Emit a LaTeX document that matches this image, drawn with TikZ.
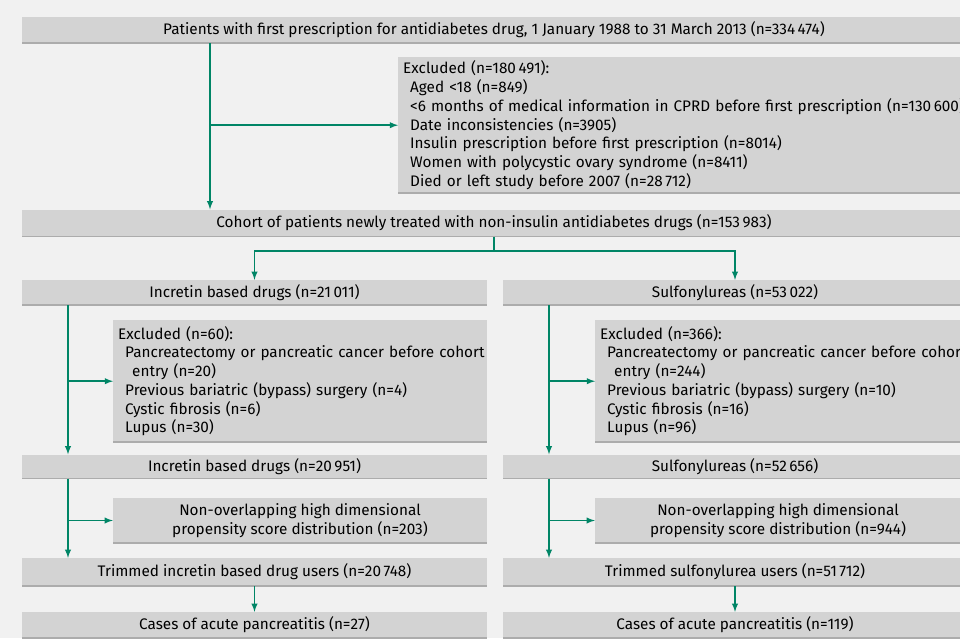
\documentclass[tikz,border=0pt]{standalone}
\usepackage{fontspec}
\setmainfont{Fira Sans}
\usetikzlibrary{positioning}
\definecolor{arrowgreen}{RGB}{0,133,102}
\definecolor{boxgray}{RGB}{211,211,211}
\definecolor{boxedge}{RGB}{172,172,172}
\definecolor{pagegray}{RGB}{241,241,241}

\begin{document}
\begin{tikzpicture}[x=1pt, y=-1pt,
		box/.style={fill=boxgray, inner sep=0pt, font=\fontsize{15.3}{18.7}\selectfont,
			path picture={\draw[boxedge, line width=2pt] (path picture bounding box.south west) -- (path picture bounding box.south east);}},
		widebar/.style={box, minimum width=944pt, minimum height=26pt},
		halfbar/.style={box, minimum width=465pt, minimum height=25pt},
		listbox/.style={box, anchor=north west, align=left, inner xsep=5pt, text width=#1},
		arr/.style={line width=1.8pt, ->, >=latex, arrowgreen},
		link/.style={line width=1.8pt, arrowgreen}]
		\useasboundingbox (0,0) rectangle (960,638);
		\fill[pagegray] (0,0) rectangle (960,638);
		\clip (0,0) rectangle (960,638);
		
		\node[widebar] (patients) at (494,30) {Patients with first prescription for antidiabetes drug, 1 January 1988 to 31 March 2013 (n=334\,474)};
		\node[listbox=560pt, minimum height=136pt] (excluded) at (398,57) {Excluded (n=180\,491):\\
			\hspace*{7pt}Aged <18 (n=849)\\
			\hspace*{7pt}\mbox{<6 months of medical information in CPRD before first prescription (n=130\,600)}\\
			\hspace*{7pt}Date inconsistencies (n=3905)\\
			\hspace*{7pt}Insulin prescription before first prescription (n=8014)\\
			\hspace*{7pt}Women with polycystic ovary syndrome (n=8411)\\
			\hspace*{7pt}Died or left study before 2007 (n=28\,712)};
		\node[widebar, minimum height=27pt] (cohort) at (494,223) {Cohort of patients newly treated with non-insulin antidiabetes drugs (n=153\,983)};
		
		\node[halfbar] (incretin) at (254.5,292.5) {Incretin based drugs (n=21\,011)};
		\node[halfbar, minimum width=464pt] (sulfo) at (735,292.5) {Sulfonylureas (n=53\,022)};
		
		\node[listbox=364pt, minimum height=122pt] (exclinc) at (113,320) {Excluded (n=60):\\
			\hspace*{7pt}\mbox{Pancreatectomy or pancreatic cancer before cohort}\\
			\hspace*{14pt}entry (n=20)\\
			\hspace*{7pt}Previous bariatric (bypass) surgery (n=4)\\
			\hspace*{7pt}Cystic fibrosis (n=6)\\
			\hspace*{7pt}Lupus (n=30)};
		\node[listbox=370pt, minimum height=122pt] (exclsulfo) at (595,320) {Excluded (n=366):\\
			\hspace*{7pt}\mbox{Pancreatectomy or pancreatic cancer before cohort}\\
			\hspace*{14pt}entry (n=244)\\
			\hspace*{7pt}Previous bariatric (bypass) surgery (n=10)\\
			\hspace*{7pt}Cystic fibrosis (n=16)\\
			\hspace*{7pt}Lupus (n=96)};
		
		\node[halfbar, minimum height=24pt] (incretin2) at (254.5,466.5) {Incretin based drugs (n=20\,951)};
		\node[halfbar, minimum width=464pt, minimum height=24pt] (sulfo2) at (735,466.5) {Sulfonylureas (n=52\,656)};
		
		\node[box, minimum width=374pt, minimum height=45pt, align=center] (overlapinc) at (300,520.5) {Non-overlapping high dimensional\\propensity score distribution (n=203)};
		\node[box, minimum width=366pt, minimum height=45pt, align=center] (overlapsulfo) at (778,520.5) {Non-overlapping high dimensional\\propensity score distribution (n=944)};
		
		\node[halfbar, minimum height=28pt] (trimmedinc) at (254.5,572) {Trimmed incretin based drug users (n=20\,748)};
		\node[halfbar, minimum width=464pt, minimum height=28pt] (trimmedsulfo) at (735,572) {Trimmed sulfonylurea users (n=51\,712)};
		
		\node[halfbar, minimum height=26pt] (casesinc) at (254.5,625) {Cases of acute pancreatitis (n=27)};
		\node[halfbar, minimum width=464pt, minimum height=26pt] (casessulfo) at (735,625) {Cases of acute pancreatitis (n=119)};
		
		\coordinate (topline) at (210,0);
		\coordinate (incline) at (68,0);
		\coordinate (sulfoline) at (549,0);
		
		\draw[arr] (topline |- patients.south) -- (topline |- cohort.north);
		\draw[arr] (topline |- excluded.west) -- (excluded.west);
		
		\draw[link] (cohort.south) -- ++(0,14) coordinate (split);
		\draw[arr] (split) -| (incretin.north);
		\draw[arr] (split) -| (sulfo.north);
		
		\draw[arr] (incline |- incretin.south) -- (incline |- incretin2.north);
		\draw[arr] (incline |- exclinc.west) -- (exclinc.west);
		\draw[arr] (sulfoline |- sulfo.south) -- (sulfoline |- sulfo2.north);
		\draw[arr] (sulfoline |- exclsulfo.west) -- (exclsulfo.west);
		
		\draw[arr] (incline |- incretin2.south) -- (incline |- trimmedinc.north);
		\draw[arr] (incline |- overlapinc.west) -- (overlapinc.west);
		\draw[arr] (sulfoline |- sulfo2.south) -- (sulfoline |- trimmedsulfo.north);
		\draw[arr] (sulfoline |- overlapsulfo.west) -- (overlapsulfo.west);
		
		\draw[arr] (trimmedinc.south) -- (casesinc.north);
		\draw[arr] (trimmedsulfo.south) -- (casessulfo.north);
	\end{tikzpicture}
\end{document}
